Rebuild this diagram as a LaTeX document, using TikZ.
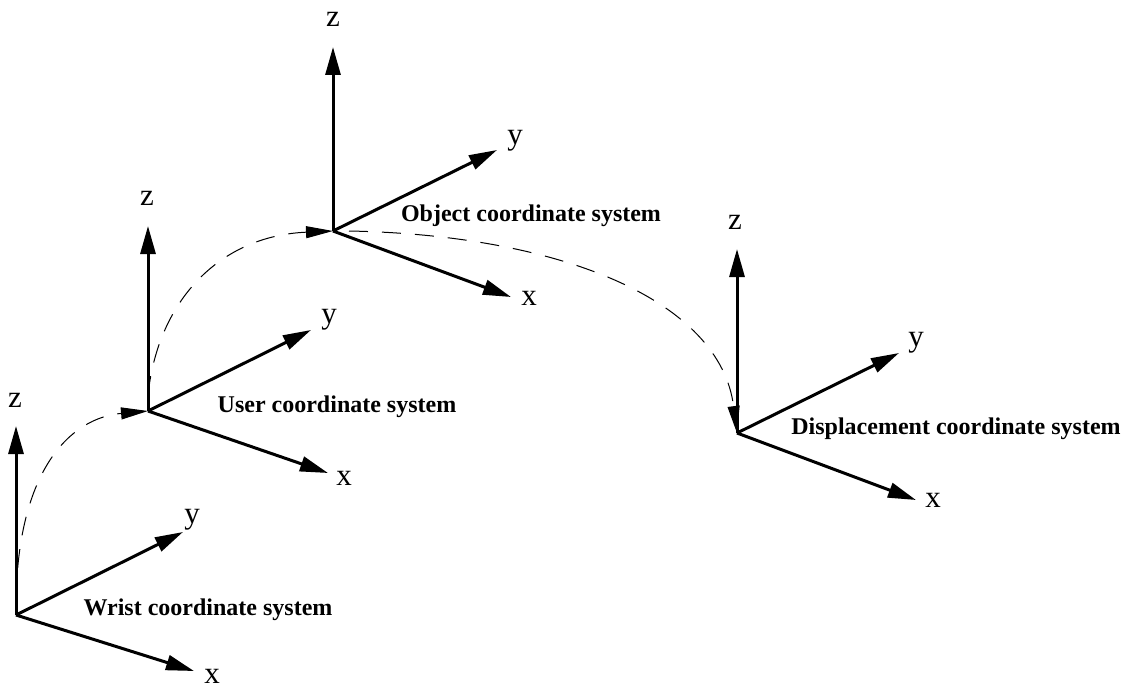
\documentclass[tikz,border=0pt]{standalone}
\usepackage{fontspec}
\setmainfont{Liberation Serif}
\usetikzlibrary{arrows.meta}
\begin{document}
\begin{tikzpicture}[x=1pt,y=-1pt,
  axis/.style={line width=3pt,-{Triangle[length=28pt,width=15pt]}},
  path/.style={line width=1pt,dash pattern=on 19pt off 14pt,-{Triangle[length=27pt,width=12pt]}},
  axlabel/.style={inner sep=0pt,font=\fontsize{31}{33}\selectfont},
  syslabel/.style={inner sep=0pt,font=\fontsize{24}{26}\selectfont\bfseries}]
\useasboundingbox (0,0) rectangle (1137,690);

% Wrist frame
\coordinate (wo) at (16,615);
\coordinate (wz) at (16,426);
\coordinate (wy) at (183,532);
\coordinate (wx) at (194,671);
\draw[axis] (wo) -- (wz);
\draw[axis] (wo) -- (wy);
\draw[axis] (wo) -- (wx);
\node[axlabel] (wzl) at (15,400) {z};
\node[axlabel] (wyl) at (192,520) {y};
\node[axlabel] (wxl) at (212,676) {x};
\node[syslabel] (wl) at (208,610) {Wrist coordinate system};

% User frame
\coordinate (uo) at (148,411);
\coordinate (uz) at (148,226);
\coordinate (uy) at (311,330);
\coordinate (ux) at (328,473);
\draw[axis] (uo) -- (uz);
\draw[axis] (uo) -- (uy);
\draw[axis] (uo) -- (ux);
\node[axlabel] (uzl) at (147,198) {z};
\node[axlabel] (uyl) at (329,320) {y};
\node[axlabel] (uxl) at (344,478) {x};
\node[syslabel] (ul) at (337,407) {User coordinate system};

% Object frame
\coordinate (oo) at (333,231);
\coordinate (oz) at (333,47);
\coordinate (oy) at (497,150);
\coordinate (ox) at (511,297);
\draw[axis] (oo) -- (oz);
\draw[axis] (oo) -- (oy);
\draw[axis] (oo) -- (ox);
\node[axlabel] (ozl) at (333,19) {z};
\node[axlabel] (oyl) at (515,141) {y};
\node[axlabel] (oxl) at (529,298) {x};
\node[syslabel] (ol) at (531,216) {Object coordinate system};

% Displacement frame
\coordinate (do) at (737,433);
\coordinate (dz) at (737,249);
\coordinate (dy) at (899,353);
\coordinate (dx) at (916,500);
\draw[axis] (do) -- (dz);
\draw[axis] (do) -- (dy);
\draw[axis] (do) -- (dx);
\node[axlabel] (dzl) at (735,222) {z};
\node[axlabel] (dyl) at (916,343) {y};
\node[axlabel] (dxl) at (933,500) {x};
\node[syslabel] (dl) at (956,429) {Displacement coordinate system};

% Transformation chain between the frames
\draw[path] ([yshift=14pt]wo) .. controls (18,470) and (70,418) .. (uo);
\draw[path] ([yshift=16pt]uo) .. controls (158,300) and (220,236) .. (oo);
\draw[path] ([xshift=16pt]oo) .. controls (560,235) and (720,300) .. (do);
\end{tikzpicture}
\end{document}
